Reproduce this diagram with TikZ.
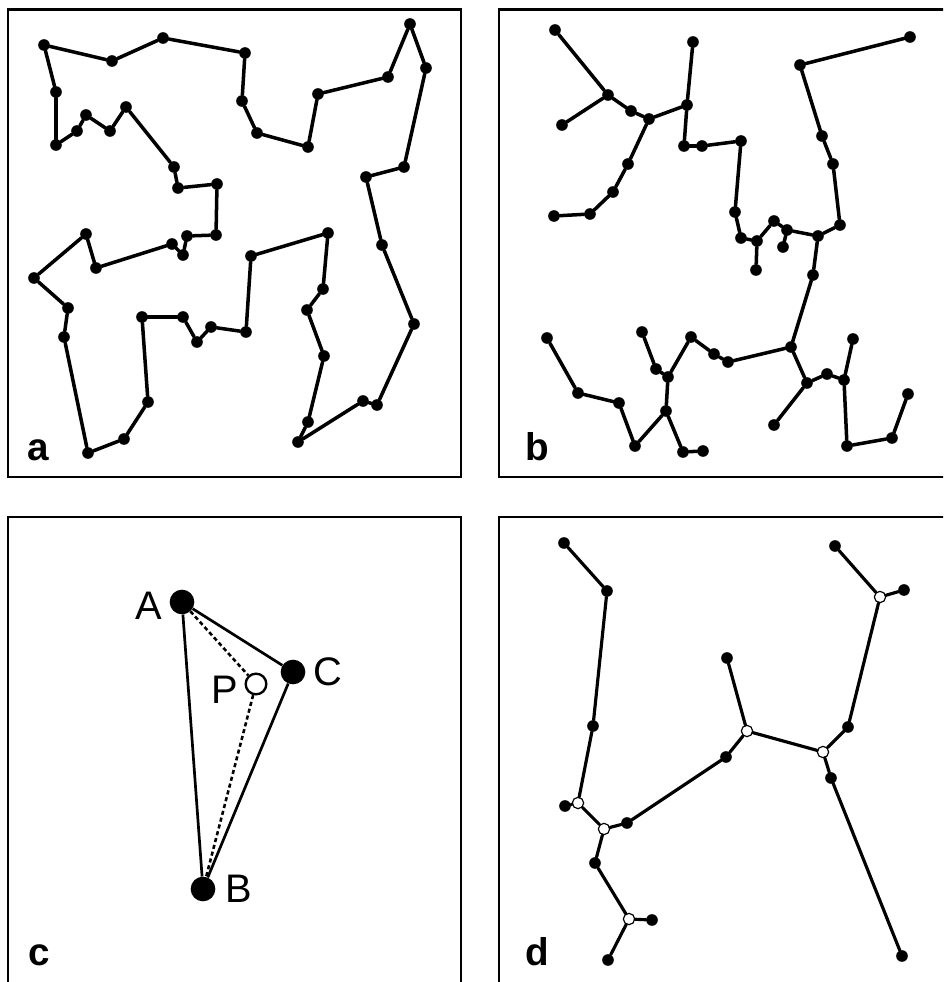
\documentclass[tikz,border=0pt]{standalone}
\usepackage{fontspec}
\setmainfont{Liberation Sans}
\usetikzlibrary{positioning}

\begin{document}
\begin{tikzpicture}[
  x=0.03cm, y=-0.03cm,
  panelframe/.style={draw=black, line width=2.1pt},
  town/.style={circle, fill=black, inner sep=0pt, minimum size=0.35cm},
  steiner/.style={circle, draw=black, fill=white, line width=1pt, inner sep=0pt, minimum size=0.34cm},
  corner/.style={circle, fill=black, inner sep=0pt, minimum size=0.74cm},
  probe/.style={circle, draw=black, fill=white, line width=2pt, inner sep=0pt, minimum size=0.62cm},
  tourline/.style={line width=3pt, line cap=round},
  treeline/.style={line width=2.7pt, line cap=round},
  sideline/.style={line width=2.3pt},
  testline/.style={line width=2.2pt, dash pattern=on 3.5pt off 2.5pt},
  paneltag/.style={font=\bfseries\fontsize{33}{38}\selectfont, anchor=base west, inner sep=0pt},
  pointname/.style={font=\fontsize{34}{40}\selectfont, inner sep=0pt},
]

\useasboundingbox (0,0) rectangle (943,982);
\fill[white] (0,0) rectangle (943,982);
\clip (0,0) rectangle (943,982);

% --- Frames ---
\draw[panelframe] (8,9.5) rectangle (461,477);
\draw[panelframe] (499,9.5) rectangle (952,477);
\draw[panelframe] (8,517) rectangle (461,986);
\draw[panelframe] (499,517) rectangle (952,986);

% --- Panel a: closed tour ---
\foreach \x/\y [count=\i] in {44/45, 112/61, 163/38, 245/53, 242/101, 257/133, 308/147,
    318/94, 388/77, 410/24, 426/68, 404/167, 366/177, 382/245, 414/324, 377/405,
    363/401, 298/442, 308/422, 324/356, 307/310, 323/289, 328/233, 251/256, 246/332,
    211/327, 197/342, 183/317, 142/317, 148/402, 124/439, 88/453, 64/337, 68/308,
    34/278, 86/234, 96/268, 172/244, 183/255, 187/236, 216/235, 217/184, 178/188,
    174/167, 126/107, 110/131, 86/115, 77/131, 56/145, 56/92}
  \node[town] (a\i) at (\x,\y) {};
\foreach \i [remember=\i as \j (initially 50)] in {1,...,50}
  \draw[tourline] (a\j) -- (a\i);
\node[paneltag] (taga) at (27,460) {a};

% --- Panel b: spanning tree ---
\foreach \x/\y [count=\i] in {555/30, 608/95, 562/125, 631/111, 649/119, 687/105, 693/42,
    684/146, 702/146, 741/141, 735/212, 741/238, 757/241, 756/270, 774/221, 787/230,
    783/247, 818/236, 840/225, 833/164, 822/136, 800/65, 910/37, 628/164, 613/192,
    590/214, 554/216, 813/275, 791/347, 728/362, 714/354, 691/337, 668/377, 656/369,
    642/332, 666/411, 683/452, 703/451, 635/446, 619/403, 578/393, 547/338, 807/383,
    774/425, 827/374, 844/380, 853/339, 847/446, 892/438, 908/394}
  \node[town] (b\i) at (\x,\y) {};
\foreach \u/\v in {1/2, 3/2, 2/4, 4/5, 5/6, 6/7, 6/8, 8/9, 9/10, 10/11, 11/12, 12/13,
    13/14, 13/15, 15/16, 16/17, 16/18, 18/19, 19/20, 20/21, 21/22, 22/23, 5/24, 24/25,
    25/26, 26/27, 18/28, 28/29, 29/30, 30/31, 31/32, 32/33, 33/34, 34/35, 33/36, 36/37,
    37/38, 36/39, 39/40, 40/41, 41/42, 29/43, 43/44, 43/45, 45/46, 46/47, 46/48, 48/49,
    49/50}
  \draw[tourline] (b\u) -- (b\v);
\node[paneltag] (tagb) at (525,460) {b};

% --- Panel c: triangle ABC with trial point P ---
\node[corner] (A) at (182,602) {};
\node[corner] (C) at (293,672) {};
\node[corner] (B) at (203,889) {};
\node[probe] (P) at (256,684) {};

\draw[sideline] (A) -- (B);
\draw[sideline] (A) -- (C);
\draw[sideline] (C) -- (B);
\draw[testline] (A) -- (P);
\draw[testline] (P) -- (B);

\node[pointname, left=0.2cm of A, yshift=-0.1cm] (nameA) {A};
\node[pointname, right=0.22cm of C] (nameC) {C};
\node[pointname, left=0.18cm of P, yshift=-0.18cm] (nameP) {P};
\node[pointname, right=0.3cm of B] (nameB) {B};
\node[paneltag] (tagc) at (28,965) {c};

% --- Panel d: Steiner tree ---
\foreach \n/\x/\y/\s in {d1/564/543/town, d2/607/591/town, d3/593/726/town,
    d4/578/803/steiner, d5/565/806/town, d6/604/829/steiner, d7/627/823/town,
    d8/726/757/town, d9/747/731/steiner, d10/727/658/town, d11/823/752/steiner,
    d12/848/727/town, d13/880/597/steiner, d14/835/546/town, d15/904/590/town,
    d16/831/778/town, d17/902/956/town, d18/595/863/town, d19/629/919/steiner,
    d20/652/920/town, d21/608/960/town}
  \node[\s] (\n) at (\x,\y) {};
\foreach \u/\v in {1/2, 2/3, 3/4, 4/5, 4/6, 6/7, 7/8, 8/9, 9/10, 9/11, 11/12, 12/13,
    13/14, 13/15, 11/16, 16/17, 6/18, 18/19, 19/20, 19/21}
  \draw[treeline] (d\u) -- (d\v);
\node[paneltag] (tagd) at (525,965) {d};

\end{tikzpicture}
\end{document}
